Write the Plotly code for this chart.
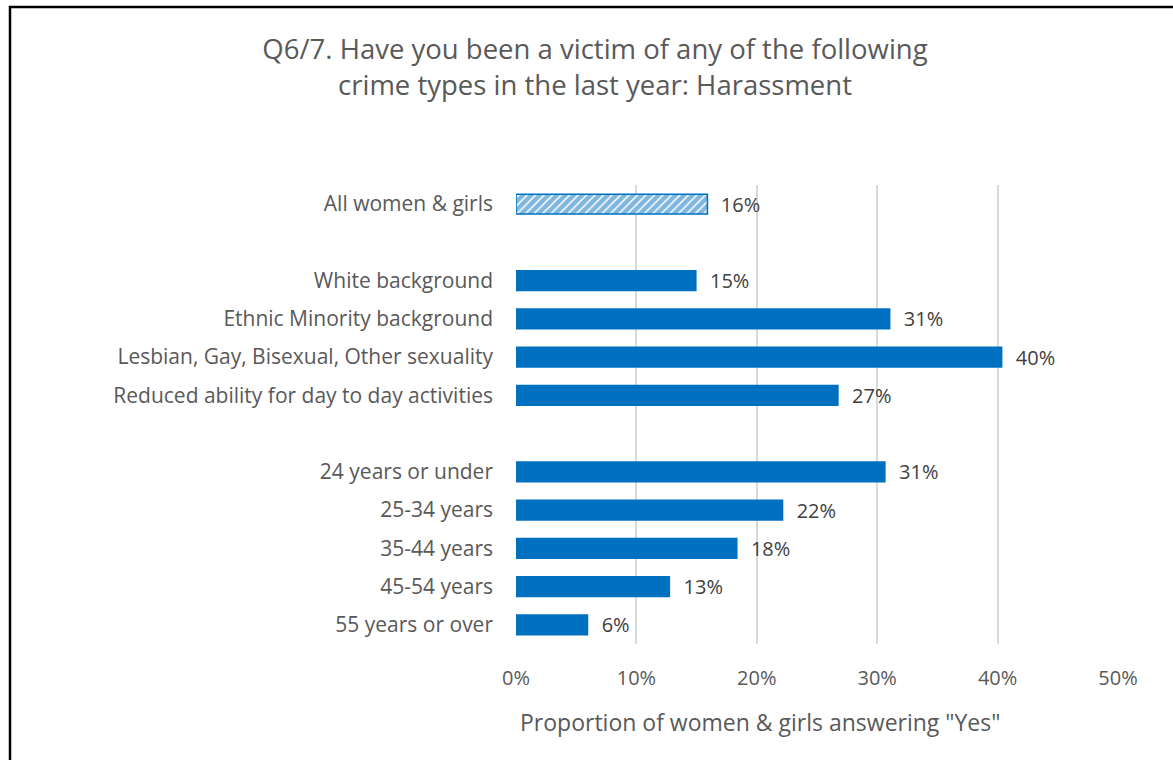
import plotly.graph_objects as go

# Survey results: share answering "Yes" (harassment in the last year)
categories = [
    "All women & girls",
    "White background",
    "Ethnic Minority background",
    "Lesbian, Gay, Bisexual, Other sexuality",
    "Reduced ability for day to day activities",
    "24 years or under",
    "25-34 years",
    "35-44 years",
    "45-54 years",
    "55 years or over",
]
values = [0.159, 0.150, 0.311, 0.404, 0.268, 0.307, 0.222, 0.184, 0.128, 0.060]
# row slots (gaps separate the groups)
slots = [11, 9, 8, 7, 6, 4, 3, 2, 1, 0]
x_ticks = [0, 0.1, 0.2, 0.3, 0.4, 0.5]
x_tick_labels = ["0%", "10%", "20%", "30%", "40%", "50%"]

BLUE = "#0070C0"
FONT = "Open Sans"

W, H = 1173, 760
L, R, T, B = 516, 55, 185, 116
PW, PH = W - L - R, H - T - B


def px_x(p):
    return (p - L) / PW


def px_y(p):
    return (H - B - p) / PH


fig = go.Figure()

label_font = dict(family=FONT, size=20, color="#404040")

# overall bar, hatched
fig.add_trace(go.Bar(
    x=values[:1], y=slots[:1], orientation="h", width=0.52,
    marker=dict(color="white", line=dict(color=BLUE, width=1.5),
                pattern=dict(shape="/", fgcolor=BLUE, bgcolor="white",
                             size=6, solidity=0.75, fillmode="overlay")),
    text=values[:1], texttemplate="  %{x:.0%}", textposition="outside",
    textfont=label_font, constraintext="none",
    cliponaxis=False, hoverinfo="skip",
))

# subgroup bars
fig.add_trace(go.Bar(
    x=values[1:], y=slots[1:], orientation="h", width=0.55,
    marker=dict(color=BLUE, line=dict(width=0)),
    text=values[1:], texttemplate="  %{x:.0%}", textposition="outside",
    textfont=label_font, constraintext="none",
    cliponaxis=False, hoverinfo="skip",
))

fig.update_layout(
    width=W, height=H,
    margin=dict(l=L, r=R, t=T, b=B),
    paper_bgcolor="white", plot_bgcolor="white",
    showlegend=False,
    title=dict(
        text="Q6/7. Have you been a victim of any of the following<br>crime types in the last year: Harassment",
        x=595 / W, xanchor="center", xref="container",
        y=1 - 59 / H, yanchor="middle", yref="container",
        font=dict(family=FONT, size=27.5, color="#595959"),
    ),
    font=dict(family=FONT, color="#595959"),
)

fig.update_xaxes(
    range=[0, 0.5], tickvals=x_ticks, ticktext=x_tick_labels,
    showgrid=True, gridcolor="#D9D9D9", gridwidth=1.5,
    zeroline=False, showline=False, ticks="",
    tickfont=dict(family=FONT, size=20, color="#595959"),
    ticklabelstandoff=20,
)
fig.update_yaxes(
    range=[-0.5, 11.5], tickvals=slots, ticktext=categories,
    showgrid=False, zeroline=False, showline=False, ticks="",
    tickfont=dict(family=FONT, size=21, color="#595959"),
    ticklabelstandoff=22,
)

fig.add_annotation(
    text='Proportion of women & girls answering "Yes"',
    xref="paper", yref="paper", x=px_x(760), y=px_y(722),
    xanchor="center", yanchor="middle", showarrow=False,
    font=dict(family=FONT, size=23, color="#595959"),
)

# outer frame of the chart
fig.add_shape(
    type="rect", xref="paper", yref="paper",
    x0=px_x(10), x1=px_x(1200), y0=px_y(7), y1=px_y(800),
    line=dict(color="black", width=2.5), fillcolor="rgba(0,0,0,0)",
    layer="above",
)

fig.write_html("out.html")
